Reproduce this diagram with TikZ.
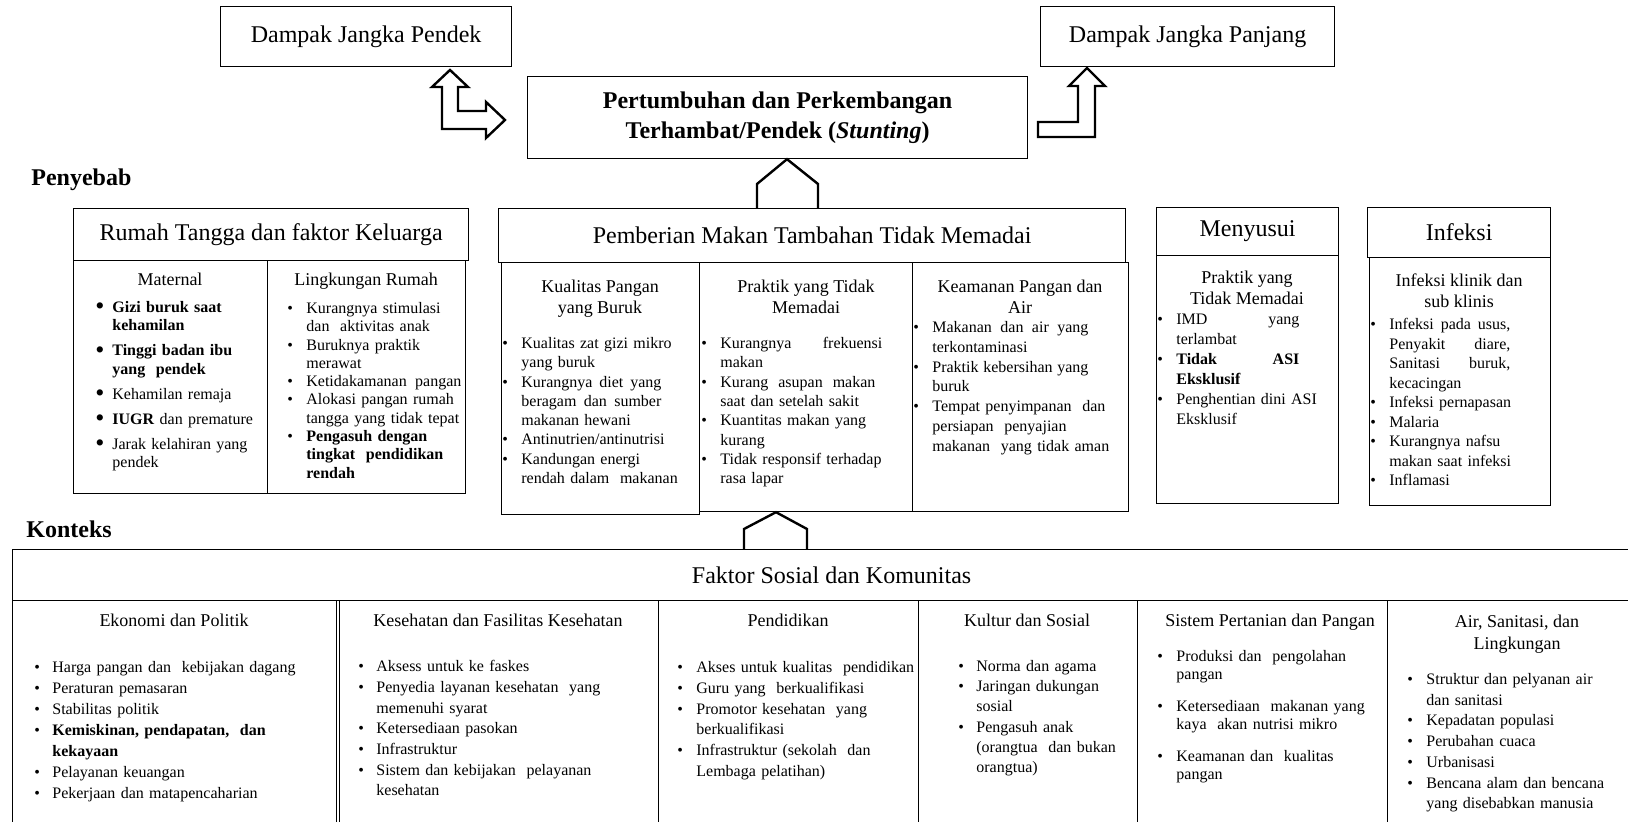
\documentclass[tikz,border=0pt]{standalone}
\usepackage{fontspec}
\setmainfont{Liberation Serif}

\newlength{\bi}
\newcommand{\bulsym}{\textbullet}
\newcommand{\bigbul}{\raisebox{-1.2pt}{\fontsize{13}{13}\selectfont\textbullet}}
\newcommand{\bul}[1]{\noindent\hangindent=\bi\hangafter=1\makebox[\bi][l]{\bulsym}#1\par}
\newcommand{\jl}[2]{\hbox to #1{#2}}

\tikzset{
  cellbox/.style={draw, line width=0.6pt, inner sep=0pt, anchor=north west},
  headtext/.style={font=\fontsize{12}{15}\selectfont},
  subhead/.style={anchor=north, inner sep=0pt, align=center, font=\fontsize{9}{10.5}\selectfont},
  itemlist/.style n args={3}{anchor=north west, inner sep=0pt, align=left, text width=200pt,
    font=\fontsize{8}{#2}\selectfont, execute at begin node={\setlength{\bi}{#1}\setlength{\parskip}{#3}}},
  sectlabel/.style={anchor=west, inner sep=0pt, font=\fontsize{12}{14}\selectfont\bfseries},
  blockarrow/.style={draw, line width=1.2pt, line join=miter}
}

\begin{document}
\begin{tikzpicture}[x=0.5pt, y=-0.5pt]
  \useasboundingbox (0,0) rectangle (1628,822);
  \clip (0,0) rectangle (1628,822);

  % outcome
  \node[cellbox, headtext, minimum width=145.5pt, minimum height=30pt] (dpendek) at (220,6) {Dampak Jangka Pendek};
  \node[cellbox, headtext, minimum width=147pt, minimum height=30pt] (dpanjang) at (1040,6) {Dampak Jangka Panjang};
  \node[cellbox, align=center, font=\fontsize{12}{15}\selectfont\bfseries, minimum width=250pt, minimum height=41pt]
    (stunting) at (527,76) {Pertumbuhan dan Perkembangan\\Terhambat/Pendek (\textit{Stunting})};

  % causes
  \node[sectlabel] (penyebab) at (31,180) {Penyebab};

  \node[cellbox, headtext, minimum width=197.5pt, minimum height=26pt] (rumahH) at (73,208) {Rumah Tangga dan faktor Keluarga};
  \node[cellbox, minimum width=97pt, minimum height=116.5pt] (rumahM) at (73,260) {};
  \node[cellbox, minimum width=99pt, minimum height=116.5pt] (rumahL) at (267,260) {};
  \node[subhead] (maternalT) at (170,273) {Maternal};
  \node[subhead] (lingkunganT) at (366,273) {Lingkungan Rumah};
  \node[itemlist={8.5pt}{9.25pt}{3.25pt}] (maternalL) at (95,301) {\renewcommand{\bulsym}{\bigbul}%
    \bul{\textbf{Gizi buruk saat}\newline\textbf{kehamilan}}
    \bul{\textbf{Tinggi badan ibu}\newline\textbf{yang~ pendek}}
    \bul{Kehamilan remaja}
    \bul{\textbf{IUGR} dan premature}
    \bul{Jarak kelahiran yang\newline pendek}};
  \node[itemlist={9.5pt}{9.15pt}{0pt}] (lingkunganL) at (287,302) {%
    \bul{Kurangnya stimulasi\newline dan~ aktivitas anak}
    \bul{Buruknya praktik\newline merawat}
    \bul{Ketidakamanan\hspace{1.5pt} pangan}
    \bul{Alokasi pangan rumah\newline tangga yang tidak tepat}
    \bul{\textbf{Pengasuh dengan}\newline\textbf{tingkat~ pendidikan}\newline\textbf{rendah}}};

  \node[cellbox, headtext, minimum width=313.5pt, minimum height=27pt] (pemberianH) at (498,208) {Pemberian Makan Tambahan Tidak Memadai};
  \node[cellbox, minimum width=99pt, minimum height=126pt] (kualitasB) at (501,262) {};
  \node[cellbox, minimum width=106.5pt, minimum height=124.5pt] (praktikB) at (699,262) {};
  \node[cellbox, minimum width=108pt, minimum height=124.5pt] (keamananB) at (912,262) {};
  \node[subhead] (kualitasT) at (600,280) {Kualitas Pangan\\yang Buruk};
  \node[subhead] (praktikT) at (806,280) {Praktik yang Tidak\\Memadai};
  \node[subhead] (keamananT) at (1020,280) {Keamanan Pangan dan\\Air};
  \node[itemlist={9.5pt}{9.65pt}{0pt}] (kualitasL) at (502,337) {%
    \bul{Kualitas zat gizi mikro\newline yang buruk}
    \bul{\jl{70pt}{Kurangnya\hfill diet\hfill yang}\newline\jl{70pt}{beragam\hfill dan\hfill sumber}\newline makanan hewani}
    \bul{Antinutrien/antinutrisi}
    \bul{Kandungan energi\newline rendah dalam~ makanan}};
  \node[itemlist={9.5pt}{9.65pt}{0pt}] (praktikL) at (701,337) {%
    \bul{\jl{81pt}{Kurangnya\hfill frekuensi}\newline makan}
    \bul{\jl{77.5pt}{Kurang\hfill asupan\hfill makan}\newline saat dan setelah sakit}
    \bul{Kuantitas makan yang\newline kurang}
    \bul{Tidak responsif terhadap\newline rasa lapar}};
  \node[itemlist={9.5pt}{9.9pt}{0pt}] (keamananL) at (913,321) {%
    \bul{\jl{78pt}{Makanan\hfill dan\hfill air\hfill yang}\newline terkontaminasi}
    \bul{\jl{78pt}{Praktik\hfill kebersihan\hfill yang}\newline buruk}
    \bul{Tempat penyimpanan~ dan\newline persiapan~ penyajian\newline makanan~ yang tidak aman}};

  \node[cellbox, headtext, minimum width=91pt, minimum height=24pt] (menyusuiH) at (1156,207) {Menyusui};
  \node[cellbox, minimum width=91pt, minimum height=124pt] (menyusuiB) at (1156,255) {};
  \node[subhead] (menyusuiT) at (1247,271) {Praktik yang\\Tidak Memadai};
  \node[itemlist={9.5pt}{10pt}{0pt}] (menyusuiL) at (1157,314) {%
    \bul{\jl{61.5pt}{IMD\hfill yang}\newline terlambat}
    \bul{\textbf{\jl{61.5pt}{Tidak\hfill ASI}}\newline\textbf{Eksklusif}}
    \bul{Penghentian dini ASI\newline Eksklusif}};

  \node[cellbox, headtext, minimum width=91.5pt, minimum height=25pt] (infeksiH) at (1367,207) {Infeksi};
  \node[cellbox, minimum width=90.5pt, minimum height=124pt] (infeksiB) at (1369,257) {};
  \node[subhead] (infeksiT) at (1459,273) {Infeksi klinik dan\\sub klinis};
  \node[itemlist={9.5pt}{9.75pt}{0pt}] (infeksiL) at (1370,318) {%
    \bul{\jl{60.5pt}{Infeksi\hfill pada\hfill usus,}\newline\jl{60.5pt}{Penyakit\hfill diare,}\newline
      \jl{60.5pt}{Sanitasi\hfill buruk,}\newline kecacingan}
    \bul{Infeksi pernapasan}
    \bul{Malaria}
    \bul{Kurangnya nafsu\newline makan saat infeksi}
    \bul{Inflamasi}};

  % context
  \node[sectlabel] (konteks) at (26,529) {Konteks};

  \node[cellbox, headtext, minimum width=819pt, minimum height=25.5pt] (faktorH) at (12,549) {Faktor Sosial dan Komunitas};
  \node[cellbox, minimum width=162pt, minimum height=115pt] (ekonomiB) at (12,600) {};
  \node[cellbox, minimum width=159.5pt, minimum height=115pt] (kesehatanB) at (339,600) {};
  \node[cellbox, minimum width=130pt, minimum height=115pt] (pendidikanB) at (658,600) {};
  \node[cellbox, minimum width=109.5pt, minimum height=115pt] (kulturB) at (918,600) {};
  \node[cellbox, minimum width=125pt, minimum height=115pt] (sistemB) at (1137,600) {};
  \node[cellbox, minimum width=131.5pt, minimum height=115pt] (airB) at (1387,600) {};

  \node[subhead] (ekonomiT) at (174,614) {Ekonomi dan Politik};
  \node[subhead] (kesehatanT) at (498,614) {Kesehatan dan Fasilitas Kesehatan};
  \node[subhead] (pendidikanT) at (788,614) {Pendidikan};
  \node[subhead] (kulturT) at (1027,614) {Kultur dan Sosial};
  \node[subhead] (sistemT) at (1270,614) {Sistem Pertanian dan Pangan};
  \node[subhead, font=\fontsize{9}{11}\selectfont] (airT) at (1517,615) {Air, Sanitasi, dan\\Lingkungan};

  \node[itemlist={9pt}{10.5pt}{0pt}] (ekonomiL) at (34,661) {%
    \bul{Harga pangan dan~ kebijakan dagang}
    \bul{Peraturan pemasaran}
    \bul{Stabilitas politik}
    \bul{\textbf{Kemiskinan, pendapatan,~ dan}\newline\textbf{kekayaan}}
    \bul{Pelayanan keuangan}
    \bul{Pekerjaan dan matapencaharian}};
  \node[itemlist={9pt}{10.35pt}{0pt}] (kesehatanL) at (358,660) {%
    \bul{Aksess untuk ke faskes}
    \bul{Penyedia layanan kesehatan~ yang\newline memenuhi syarat}
    \bul{Ketersediaan pasokan}
    \bul{Infrastruktur}
    \bul{Sistem dan kebijakan~ pelayanan\newline kesehatan}};
  \node[itemlist={9.5pt}{10.4pt}{0pt}] (pendidikanL) at (677,661) {%
    \bul{Akses untuk kualitas~ pendidikan}
    \bul{Guru yang~ berkualifikasi}
    \bul{Promotor kesehatan~ yang\newline berkualifikasi}
    \bul{Infrastruktur (sekolah~ dan\newline Lembaga pelatihan)}};
  \node[itemlist={9pt}{10.1pt}{0pt}] (kulturL) at (958,660) {%
    \bul{Norma dan agama}
    \bul{Jaringan dukungan\newline sosial}
    \bul{Pengasuh anak\newline (orangtua~ dan bukan\newline orangtua)}};
  \node[itemlist={9.5pt}{9.25pt}{6.5pt}] (sistemL) at (1157,650) {%
    \bul{Produksi dan~ pengolahan\newline pangan}
    \bul{Ketersediaan~ makanan yang\newline kaya~ akan nutrisi mikro}
    \bul{Keamanan dan~ kualitas\newline pangan}};
  \node[itemlist={9.5pt}{10.35pt}{0pt}] (airL) at (1407,673) {%
    \bul{Struktur dan pelyanan air\newline dan sanitasi}
    \bul{Kepadatan populasi}
    \bul{Perubahan cuaca}
    \bul{Urbanisasi}
    \bul{Bencana alam dan bencana\newline yang disebabkan manusia}};

  % block arrows
  \draw[blockarrow] (450,70) -- (468,87) -- (458,87) -- (458,111) -- (486,111) -- (486,102) -- (505,120)
    -- (486,138) -- (486,129) -- (442,129) -- (442,87) -- (432,87) -- cycle;
  \draw[blockarrow] (1038,122) -- (1078,122) -- (1078,86) -- (1069,86) -- (1087,68) -- (1105,86)
    -- (1095,86) -- (1095,137) -- (1038,137) -- cycle;
  \draw[blockarrow] (757,0 |- pemberianH.north) -- (757,184) -- (787,0 |- stunting.south)
    -- (818,184) -- (818,0 |- pemberianH.north);
  \draw[blockarrow] (744,0 |- faktorH.north) -- (744,529) -- (776,0 |- praktikB.south)
    -- (807,529) -- (807,0 |- faktorH.north);
\end{tikzpicture}
\end{document}
